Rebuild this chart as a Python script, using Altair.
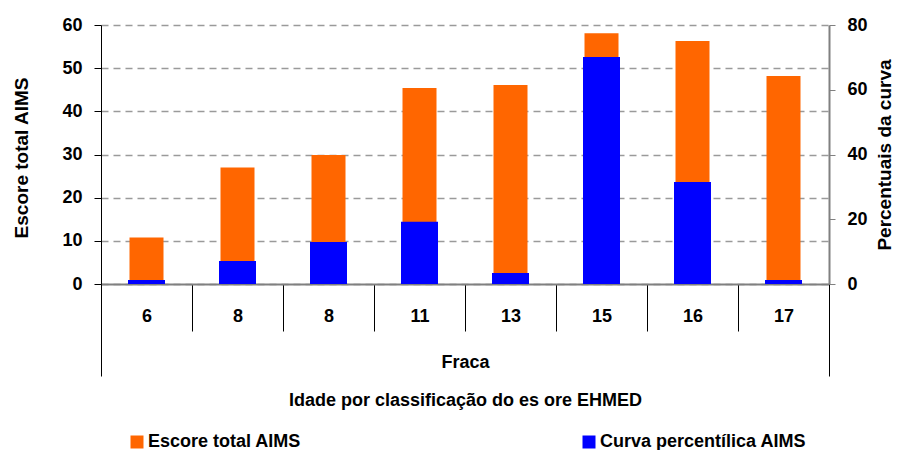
import altair as alt
import pandas as pd

# ---- data ----
AGES = ["6", "8", "8", "11", "13", "15", "16", "17"]
ESCORE = [10.8, 27.0, 29.9, 45.4, 46.1, 58.1, 56.3, 48.2]
CURVA = [1.2, 7.1, 13.0, 19.2, 3.4, 70.1, 31.5, 1.2]
GROUP = "Fraca"
SERIES = ["Escore total AIMS", "Curva percentílica AIMS"]
COLORS = ["#FF6600", "#0000FF"]
LEFT_TICKS = [0, 10, 20, 30, 40, 50, 60]
RIGHT_TICKS = [0, 20, 40, 60, 80]
X_TITLE = "Idade por classificação do es ore EHMED"
Y_LEFT_TITLE = "Escore total AIMS"
Y_RIGHT_TITLE = "Percentuais da curva"

df = pd.DataFrame({
    "k": list(range(len(AGES))),
    "escore": ESCORE,
    "curva": CURVA,
    "grupo": [GROUP] * len(AGES),
})

FONT = "Liberation Sans"
W, H = 728, 259

label_expr = "[" + ",".join("'" + a + "'" for a in AGES) + "][datum.value]"

color = alt.Color(
    "s:N",
    scale=alt.Scale(domain=SERIES, range=COLORS),
    legend=alt.Legend(
        orient="none", legendX=27, legendY=408, direction="horizontal",
        title=None, symbolType="square", symbolSize=169, symbolStrokeWidth=0,
        symbolOpacity=1, labelFont=FONT, labelFontSize=18, labelFontWeight="bold",
        labelColor="black", labelOffset=2, labelLimit=400, columnPadding=278, padding=0,
    ),
)

x_main = alt.X(
    "k:O",
    scale=alt.Scale(paddingInner=0, paddingOuter=0),
    axis=alt.Axis(
        orient="bottom", title=None, labelExpr=label_expr, labelAngle=0,
        labelFont=FONT, labelFontSize=18, labelFontWeight="bold", labelColor="black",
        labelBaseline="middle", labelPadding=-15,
        tickBand="extent", tickSize=47, tickColor="black", tickWidth=1,
        domainColor="#808080", domainWidth=2, grid=False,
    ),
)

orange = alt.Chart(df).transform_calculate(s="'" + SERIES[0] + "'").mark_bar(size=34).encode(
    x=x_main,
    y=alt.Y(
        "escore:Q",
        scale=alt.Scale(domain=[0, 60], nice=False),
        axis=alt.Axis(
            orient="left", values=LEFT_TICKS, title=Y_LEFT_TITLE,
            titleFont=FONT, titleFontSize=19, titleFontWeight="bold", titleColor="black",
            titleAngle=270, titleX=-80, titleY=H / 2 + 3, titleBaseline="middle", titleAlign="center",
            labelFont=FONT, labelFontSize=18, labelFontWeight="bold", labelColor="black",
            labelPadding=12, tickSize=7, tickColor="black", domainColor="black",
            grid=True, gridDash=[7, 5], gridColor="#9a9a9a", gridWidth=1.5,
        ),
    ),
    color=color,
)

blue = alt.Chart(df).transform_calculate(s="'" + SERIES[1] + "'").mark_bar(size=37).encode(
    x=alt.X("k:O", scale=alt.Scale(paddingInner=0, paddingOuter=0), axis=None),
    y=alt.Y(
        "curva:Q",
        scale=alt.Scale(domain=[0, 80], nice=False),
        axis=alt.Axis(
            orient="right", values=RIGHT_TICKS, title=Y_RIGHT_TITLE,
            titleFont=FONT, titleFontSize=19, titleFontWeight="bold", titleColor="black",
            titleAngle=270, titleX=55, titleY=H / 2, titleBaseline="middle", titleAlign="center",
            labelFont=FONT, labelFontSize=18, labelFontWeight="bold", labelColor="black",
            labelPadding=12, tickSize=6, tickColor="#808080", domainColor="#808080",
            domainWidth=2, grid=False,
        ),
    ),
    color=color,
)

ghost = alt.Chart(df).mark_rule(opacity=0).encode(
    x=alt.X(
        "grupo:N",
        scale=alt.Scale(paddingInner=0, paddingOuter=0),
        axis=alt.Axis(
            orient="bottom", title=X_TITLE,
            titleFont=FONT, titleFontSize=18, titleFontWeight="bold", titleColor="black",
            titleY=116, titleBaseline="middle",
            labelFont=FONT, labelFontSize=18, labelFontWeight="bold", labelColor="black",
            labelAngle=0, labelBaseline="middle", labelPadding=-14,
            tickBand="extent", tickSize=92, tickColor="black", tickWidth=1,
            domain=False, grid=False,
        ),
    ),
)

chart = (
    alt.layer(orange, blue, ghost)
    .resolve_scale(x="independent", y="independent")
    .properties(
        width=W, height=H,
        autosize=alt.AutoSizeParams(type="none"),
        padding={"left": 93, "top": 17, "right": 64, "bottom": 166},
    )
    .configure_view(strokeWidth=0)
)

chart.save("out.html", embed_options={"renderer": "svg", "actions": False})
